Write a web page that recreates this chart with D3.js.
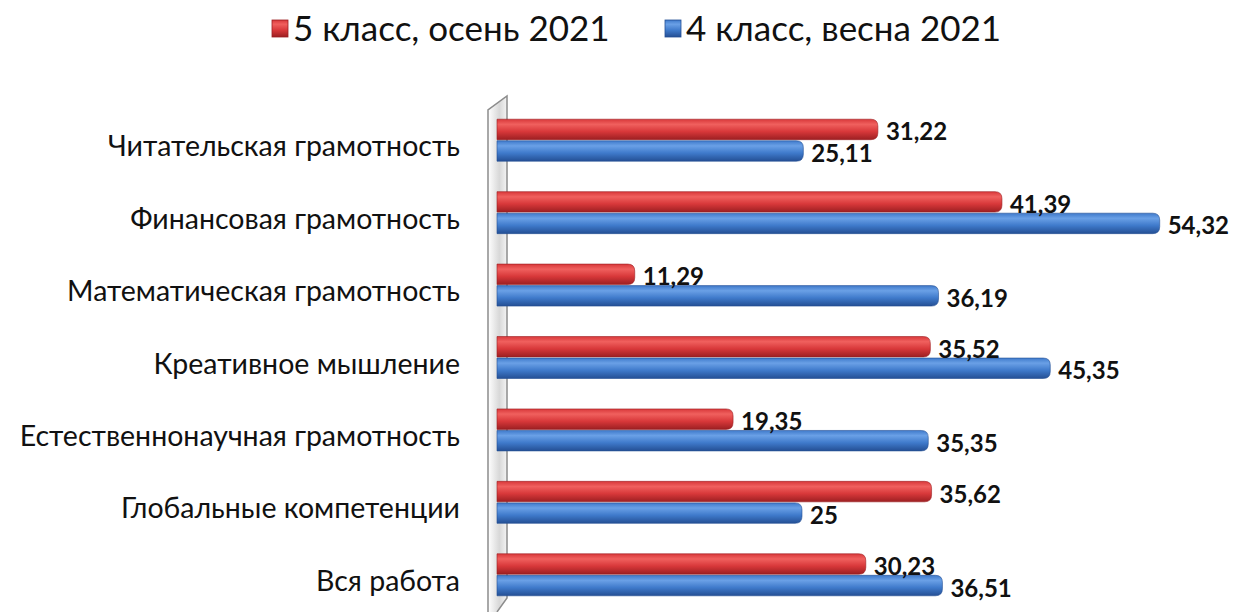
<!DOCTYPE html>
<html>
<head>
<meta charset="utf-8">
<script src="https://cdn.jsdelivr.net/npm/d3@7"></script>
<style>
  body { margin: 0; background: #fff; }
  text { font-family: Lato, "Open Sans", sans-serif; }
</style>
</head>
<body>
<div id="viz"></div>
<script>
var categories = ["Читательская грамотность", "Финансовая грамотность", "Математическая грамотность",
    "Креативное мышление", "Естественнонаучная грамотность", "Глобальные компетенции", "Вся работа"];
var seriesNames = ["5 класс, осень 2021", "4 класс, весна 2021"];
var autumn5 = [31.22, 41.39, 11.29, 35.52, 19.35, 35.62, 30.23];
var spring4 = [25.11, 54.32, 36.19, 45.35, 35.35, 25, 36.51];
var valueLabels5 = ["31,22", "41,39", "11,29", "35,52", "19,35", "35,62", "30,23"];
var valueLabels4 = ["25,11", "54,32", "36,19", "45,35", "35,35", "25", "36,51"];

var colors = [
    {light: "#f0605e", mid: "#d8383a", dark: "#9c1f22"},
    {light: "#6aa0e6", mid: "#3f7acb", dark: "#244f94"}
];

var svg = d3.select("#viz")
    .append("svg")
    .attr("width", 1233)
    .attr("height", 612);

var defs = svg.append("defs");
colors.forEach(function(c, i) {
    var g = defs.append("linearGradient")
        .attr("id", "grad" + i)
        .attr("x1", 0).attr("y1", 0).attr("x2", 0).attr("y2", 1);
    g.append("stop").attr("offset", "0%").attr("stop-color", c.mid);
    g.append("stop").attr("offset", "25%").attr("stop-color", c.light);
    g.append("stop").attr("offset", "60%").attr("stop-color", c.mid);
    g.append("stop").attr("offset", "100%").attr("stop-color", c.dark);
});
var wg = defs.append("linearGradient")
    .attr("id", "wallgrad")
    .attr("x1", 0).attr("y1", 0).attr("x2", 1).attr("y2", 0);
wg.append("stop").attr("offset", "0%").attr("stop-color", "#ffffff");
wg.append("stop").attr("offset", "60%").attr("stop-color", "#d8d8d8");
wg.append("stop").attr("offset", "100%").attr("stop-color", "#f4f4f4");

var x = d3.scaleLinear().domain([0, 60]).range([497, 1229]);
var y = d3.scaleBand().domain(categories).range([104, 611]);
var y1 = d3.scaleBand().domain(seriesNames).range([0, 42]).paddingInner(0.05);

// side wall
var wall = svg.append("g");
wall.append("path")
    .attr("d", "M488,110 L507,96 L507,598 L497,612 L488,612 Z")
    .attr("fill", "url(#wallgrad)");
wall.append("path")
    .attr("d", "M488,612 L488,110 L507,96 L507,598 L497,612")
    .attr("fill", "none")
    .attr("stroke", "#8c8c8c")
    .attr("stroke-width", 1.5);

var rows = svg.selectAll("g.row")
    .data(categories)
    .enter().append("g")
    .attr("class", "row")
    .attr("transform", function(d) { return "translate(0," + (y(d) + y.bandwidth() / 2 - 21) + ")"; });

var seriesData = [autumn5, spring4];
var labelData = [valueLabels5, valueLabels4];

// bar with square left end and rounded right end
function barPath(x0, x1, y0, h) {
    var r = 7;
    return "M" + x0 + "," + y0 + " L" + (x1 - r) + "," + y0 +
        " Q" + x1 + "," + y0 + " " + x1 + "," + (y0 + r) +
        " L" + x1 + "," + (y0 + h - r) +
        " Q" + x1 + "," + (y0 + h) + " " + (x1 - r) + "," + (y0 + h) +
        " L" + x0 + "," + (y0 + h) + " Z";
}

seriesNames.forEach(function(s, si) {
    rows.append("path")
        .attr("d", function(d, i) { return barPath(x(0), x(seriesData[si][i]), y1(s), y1.bandwidth()); })
        .attr("fill", "url(#grad" + si + ")")
        .attr("stroke", colors[si].dark)
        .attr("stroke-width", 0.6);
});

rows.append("text")
    .attr("x", 460)
    .attr("y", 37)
    .attr("text-anchor", "end")
    .attr("font-size", 28.5)
    .attr("fill", "#111")
    .text(function(d) { return d; });

seriesNames.forEach(function(s, si) {
    rows.append("text")
        .attr("x", function(d, i) { return x(seriesData[si][i]) + 8; })
        .attr("y", y1(s) + y1.bandwidth() / 2 + 11)
        .attr("font-size", 24)
        .attr("font-weight", "bold")
        .attr("fill", "#111")
        .text(function(d, i) { return labelData[si][i]; });
});

// legend
var legendX = [272, 665];
var legend = svg.selectAll("g.legend")
    .data(seriesNames)
    .enter().append("g")
    .attr("class", "legend")
    .attr("transform", function(d, i) { return "translate(" + legendX[i] + ",0)"; });
legend.append("rect")
    .attr("x", 0).attr("y", 20)
    .attr("width", 16).attr("height", 17)
    .attr("fill", function(d, i) { return "url(#grad" + i + ")"; })
    .attr("stroke", function(d, i) { return colors[i].dark; })
    .attr("stroke-width", 0.8);
legend.append("text")
    .attr("x", 21)
    .attr("y", 41)
    .attr("font-size", 35)
    .attr("fill", "#111")
    .text(function(d) { return d; });
</script>
</body>
</html>
